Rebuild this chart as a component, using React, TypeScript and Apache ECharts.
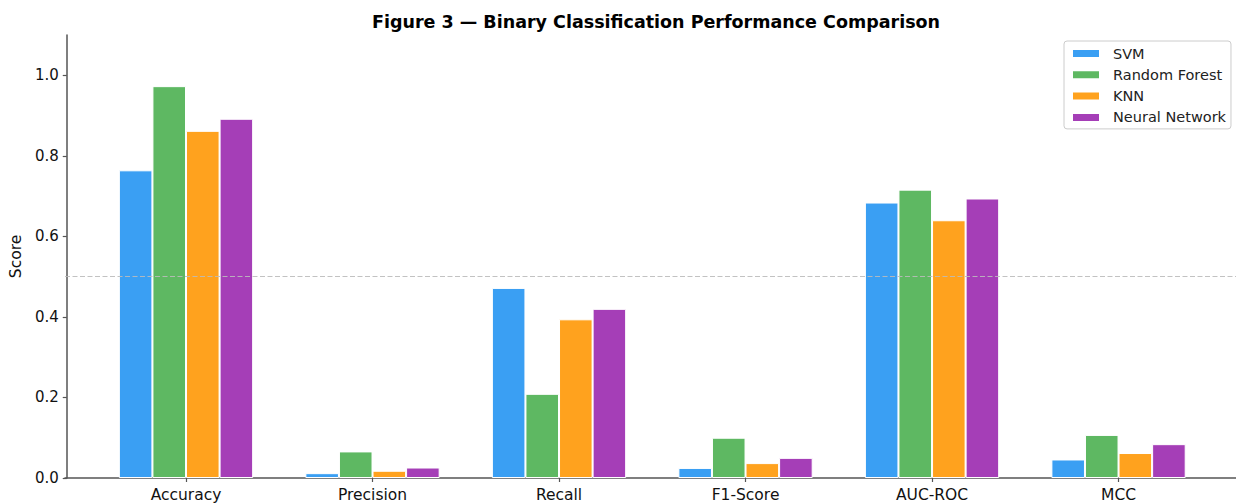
import React, { useEffect, useRef } from "react";
import * as echarts from "echarts";

const categories = ["Accuracy", "Precision", "Recall", "F1-Score", "AUC-ROC", "MCC"];
const seriesNames = ["SVM", "Random Forest", "KNN", "Neural Network"];
const svm = [0.764, 0.012, 0.472, 0.025, 0.684, 0.046];
const randomForest = [0.973, 0.066, 0.209, 0.1, 0.716, 0.107];
const knn = [0.862, 0.018, 0.394, 0.037, 0.64, 0.062];
const neuralNetwork = [0.892, 0.026, 0.42, 0.05, 0.694, 0.084];
const yTicks = [0, 0.2, 0.4, 0.6, 0.8, 1.0];
const colors = ["#3a9ff3", "#5eb862", "#ffa21e", "#a53eb7"];
const titleText = "Figure 3 — Binary Classification Performance Comparison";
const yName = "Score";
const refLine = 0.5;

export default function App() {
  const ref = useRef<HTMLDivElement>(null);
  useEffect(() => {
    if (!ref.current) return;
    const chart = echarts.init(ref.current, null, { renderer: "svg" });
    const values = [svm, randomForest, knn, neuralNetwork];
    const font = "DejaVu Sans";
    const axisColor = "#555555";
    chart.setOption({
      animation: false,
      backgroundColor: "#ffffff",
      textStyle: { fontFamily: font },
      title: {
        text: titleText,
        left: 651,
        textAlign: "center",
        top: 8,
        textStyle: { fontFamily: font, fontSize: 17.5, fontWeight: "bold", color: "#000" },
      },
      legend: {
        data: seriesNames,
        orient: "vertical",
        left: 1064,
        top: 41,
        itemWidth: 28,
        itemHeight: 9,
        itemGap: 6.3,
        padding: [5, 5, 4, 7],
        borderColor: "#cccccc",
        borderWidth: 1,
        borderRadius: 3,
        backgroundColor: "#ffffff",
        icon: "rect",
        textStyle: { fontFamily: font, fontSize: 14.5, color: "#222", lineHeight: 14, padding: [0, 0, 0, 8] },
      },
      grid: [
        { left: 91, right: 24.2, top: 35, bottom: 26 },
        { left: 65, right: 0, top: 35, bottom: 26 },
      ],
      xAxis: [
        {
          type: "category",
          gridIndex: 0,
          data: categories,
          axisLine: { show: false },
          axisTick: { show: true, alignWithLabel: true, length: 4, lineStyle: { color: axisColor, width: 1.2 } },
          axisLabel: { fontFamily: font, fontSize: 15.5, color: "#111", margin: 9 },
        },
        {
          type: "value",
          gridIndex: 1,
          min: 0,
          max: 1,
          axisLine: { show: true, lineStyle: { color: axisColor, width: 1.5 } },
          axisTick: { show: false },
          axisLabel: { show: false },
          splitLine: { show: false },
        },
      ],
      yAxis: [
        {
          type: "value",
          gridIndex: 0,
          min: 0,
          max: 1.1,
          offset: 26,
          name: yName,
          nameLocation: "middle",
          nameRotate: 90,
          nameGap: 39,
          nameTextStyle: { fontFamily: font, fontSize: 15.5, color: "#111" },
          axisLine: { show: true, lineStyle: { color: axisColor, width: 1.5 } },
          axisTick: { show: true, length: 4, customValues: yTicks, lineStyle: { color: axisColor, width: 1.2 } },
          axisLabel: {
            fontFamily: font,
            fontSize: 15,
            color: "#111",
            margin: 8,
            customValues: yTicks,
            formatter: (v: number) => v.toFixed(1),
          },
          splitLine: { show: false },
        },
        {
          type: "value",
          gridIndex: 1,
          min: 0,
          max: 1.1,
          show: false,
        },
      ],
      series: [
        ...seriesNames.map((name, i) => ({
          name,
          type: "bar",
          xAxisIndex: 0,
          yAxisIndex: 0,
          data: values[i],
          barWidth: "18%",
          barGap: "0%",
          itemStyle: { color: colors[i], borderColor: "#ffffff", borderWidth: 1 },
        })),
        {
          name: "ref",
          type: "line",
          xAxisIndex: 1,
          yAxisIndex: 1,
          data: [],
          silent: true,
          markLine: {
            silent: true,
            symbol: ["none", "none"],
            label: { show: false },
            lineStyle: { color: "#bbbbbb", type: [5, 2.5], width: 0.9 },
            data: [{ yAxis: refLine }],
          },
        },
      ],
    });
    return () => chart.dispose();
  }, []);
  return (
    <div style={{ position: "fixed", left: 0, top: 0, width: 1236, height: 504 }}>
      <div ref={ref} style={{ width: 1236, height: 504 }} />
    </div>
  );
}
